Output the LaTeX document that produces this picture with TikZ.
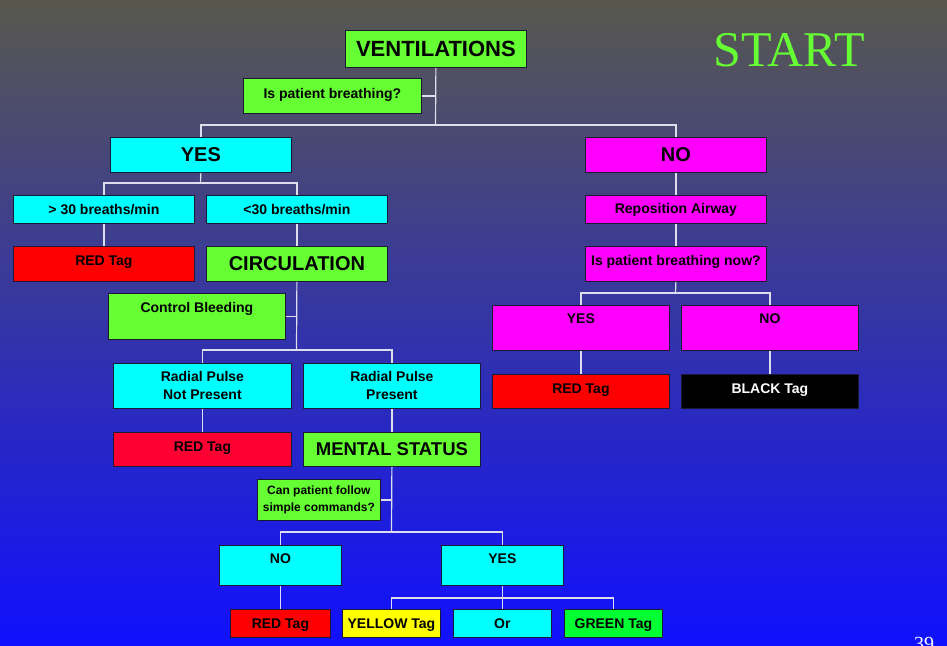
\documentclass[tikz,border=0pt]{standalone}
\usepackage{fontspec}
\setmainfont{Liberation Sans}
\newfontfamily\slidefont{Liberation Serif}

\definecolor{bgtop}{RGB}{88,88,78}
\definecolor{bgmid}{RGB}{68,68,176}
\definecolor{bgbottom}{RGB}{16,16,255}
\definecolor{boxgreen}{HTML}{66FF33}
\definecolor{boxcyan}{HTML}{00FFFF}
\definecolor{boxpink}{HTML}{FF00FF}
\definecolor{boxred}{HTML}{FF0000}
\definecolor{boxcrimson}{HTML}{FF0033}
\definecolor{boxyellow}{HTML}{FFFF00}
\definecolor{taggreen}{HTML}{00FF33}
\definecolor{boxline}{HTML}{1A1A33}
\definecolor{linegray}{HTML}{DDDDEE}

\begin{document}
\begin{tikzpicture}[x=1pt, y=-1pt,
    box/.style={draw=boxline, line width=0.8pt, inner sep=0pt, anchor=north west, align=center,
        font=\bfseries\fontsize{14}{18}\selectfont},
    bigbox/.style={box, font=\bfseries\fontsize{20}{24}\selectfont},
    size/.style 2 args={minimum width=#1, minimum height=#2},
    textup/.style={text depth=#1},
    conn/.style={draw=linegray, line width=1.2pt}]

    % Fondo
    \shade[top color=bgtop, middle color=bgmid, bottom color=bgbottom] (0,0) rectangle (947,645);
    \useasboundingbox (0,0) rectangle (947,645);

    % Titulo
    \node[text=boxgreen, font=\slidefont\fontsize{50}{56}\selectfont, inner sep=0pt] (start) at (789,50) {START};
    \node[text=white, font=\slidefont\fontsize{20}{24}\selectfont, inner sep=0pt, anchor=north west] (page) at (914,637) {39};

    % Ventilaciones
    \node[bigbox, fill=boxgreen, size={181}{37}, font=\bfseries\fontsize{22}{26}\selectfont] (vent) at (345,30) {VENTILATIONS};
    \node[box, fill=boxgreen, size={178}{35}, textup=5] (breath) at (243,78) {Is patient breathing?};

    % Rama YES
    \node[bigbox, fill=boxcyan, size={181}{35}] (yes) at (110,137) {YES};
    \node[box, fill=boxcyan, size={181}{28}] (fast) at (13,195) {> 30 breaths/min};
    \node[box, fill=boxcyan, size={181}{28}] (slow) at (206,195) {<30 breaths/min};
    \node[box, fill=boxred, size={181}{35}, textup=7] (redA) at (13,246) {RED Tag};
    \node[bigbox, fill=boxgreen, size={181}{35}] (circ) at (206,246) {CIRCULATION};
    \node[box, fill=boxgreen, size={177}{46}, textup=18] (bleed) at (108,293) {Control Bleeding};
    \node[box, fill=boxcyan, size={178}{45}] (nopulse) at (113,363) {Radial Pulse\\Not Present};
    \node[box, fill=boxcyan, size={177}{45}] (pulse) at (303,363) {Radial Pulse\\Present};
    \node[box, fill=boxcrimson, size={178}{34}, textup=6] (redB) at (113,432) {RED Tag};
    \node[bigbox, fill=boxgreen, size={177}{34}, font=\bfseries\fontsize{18.5}{22}\selectfont] (mental) at (303,432) {MENTAL STATUS};
    \node[box, fill=boxgreen, size={123}{41}, font=\bfseries\fontsize{12}{17}\selectfont] (follow) at (257,479) {Can patient follow\\simple commands?};
    \node[box, fill=boxcyan, size={122}{40}, textup=14] (noB) at (219,545) {NO};
    \node[box, fill=boxcyan, size={122}{40}, textup=14] (yesB) at (441,545) {YES};
    \node[box, fill=boxred, size={100}{28}, textup=0] (redC) at (230,609) {RED Tag};
    \node[box, fill=boxyellow, size={98}{28}, textup=0] (yellow) at (342,609) {YELLOW Tag};
    \node[box, fill=boxcyan, size={98}{28}] (orbox) at (453,609) {Or};
    \node[box, fill=taggreen, size={98}{28}, textup=0] (green) at (564,609) {GREEN Tag};

    % Rama NO
    \node[bigbox, fill=boxpink, size={181}{35}] (no) at (585,137) {NO};
    \node[box, fill=boxpink, size={181}{28}] (airway) at (585,195) {Reposition Airway};
    \node[box, fill=boxpink, size={181}{35}, textup=7] (again) at (585,246) {Is patient breathing now?};
    \node[box, fill=boxpink, size={177}{45}, textup=19] (yesA) at (492,305) {YES};
    \node[box, fill=boxpink, size={177}{45}, textup=19] (noA) at (681,305) {NO};
    \node[box, fill=boxred, size={177}{34}, textup=6] (redD) at (492,374) {RED Tag};
    \node[box, fill=black, text=white, size={177}{34}, textup=6] (blackTag) at (681,374) {BLACK Tag};

    % Uniones
    \coordinate (j1) at (435.5,125);
    \coordinate (j2) at (200.5,183);
    \coordinate (j3) at (296.5,350);
    \coordinate (j4) at (391.5,532);
    \coordinate (j5) at (502,598);
    \coordinate (j6) at (675.5,293);

    % Lineas
    \draw[conn] (vent.south) -- (j1);
    \draw[conn] (breath.east) -- (breath.east -| vent.south);
    \draw[conn] (yes.north) |- (j1) -| (no.north);
    \draw[conn] (yes.south) -- (j2);
    \draw[conn] (fast.north) |- (j2) -| (slow.north);
    \draw[conn] (fast.south) -- (redA.north);
    \draw[conn] (slow.south) -- (circ.north);
    \draw[conn] (circ.south) -- (j3);
    \draw[conn] (bleed.east) -- (bleed.east -| circ.south);
    \draw[conn] (nopulse.north) |- (j3) -| (pulse.north);
    \draw[conn] (nopulse.south) -- (redB.north);
    \draw[conn] (pulse.south) -- (mental.north);
    \draw[conn] (mental.south) -- (j4);
    \draw[conn] (follow.east) -- (follow.east -| mental.south);
    \draw[conn] (noB.north) |- (j4) -| (yesB.north);
    \draw[conn] (noB.south) -- (redC.north);
    \draw[conn] (yesB.south) -- (orbox.north);
    \draw[conn] (yellow.north) |- (j5) -| (green.north);
    \draw[conn] (no.south) -- (airway.north);
    \draw[conn] (airway.south) -- (again.north);
    \draw[conn] (again.south) -- (j6);
    \draw[conn] (yesA.north) |- (j6) -| (noA.north);
    \draw[conn] (yesA.south) -- (redD.north);
    \draw[conn] (noA.south) -- (blackTag.north);
\end{tikzpicture}
\end{document}
